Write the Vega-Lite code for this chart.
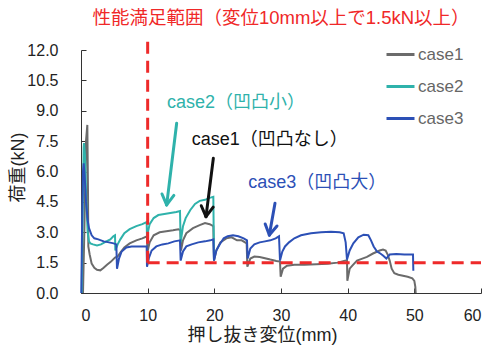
{
  "$schema": "https://vega.github.io/schema/vega-lite/v6.json",
  "width": 400,
  "height": 243,
  "autosize": {"type": "none"},
  "padding": {"left": 81, "top": 50, "right": 6, "bottom": 54},
  "config": {"view": {"stroke": null}, "font": "Liberation Sans, Noto Sans CJK JP"},
  "title": {"text": "性能満足範囲（変位10mm以上で1.5kN以上）", "color": "#f02828", "fontSize": 18.5, "fontWeight": "normal", "font": "Liberation Sans, Noto Sans CJK JP", "anchor": "middle", "offset": 8},
  "datasets": {
    "curves": [
      {"series": "case1", "x": 0.3, "y": 0}, {"series": "case1", "x": 0.5, "y": 3}, {"series": "case1", "x": 0.75, "y": 7.5}, {"series": "case1", "x": 0.95, "y": 8.3}, {"series": "case1", "x": 1.05, "y": 5}, {"series": "case1", "x": 1.1, "y": 2.3}, {"series": "case1", "x": 1.3, "y": 1.9}, {"series": "case1", "x": 1.6, "y": 1.45}, {"series": "case1", "x": 2.0, "y": 1.25}, {"series": "case1", "x": 2.4, "y": 1.15}, {"series": "case1", "x": 2.9, "y": 1.12}, {"series": "case1", "x": 3.4, "y": 1.25}, {"series": "case1", "x": 3.9, "y": 1.4}, {"series": "case1", "x": 4.5, "y": 1.55}, {"series": "case1", "x": 5.1, "y": 1.75}, {"series": "case1", "x": 5.5, "y": 1.8}, {"series": "case1", "x": 5.9, "y": 2.0}, {"series": "case1", "x": 6.5, "y": 2.25}, {"series": "case1", "x": 7.3, "y": 2.45}, {"series": "case1", "x": 8.3, "y": 2.6}, {"series": "case1", "x": 9.2, "y": 2.7}, {"series": "case1", "x": 9.9, "y": 2.8}, {"series": "case1", "x": 9.95, "y": 2.0}, {"series": "case1", "x": 10.3, "y": 2.5}, {"series": "case1", "x": 10.9, "y": 2.85}, {"series": "case1", "x": 11.8, "y": 3.0}, {"series": "case1", "x": 12.8, "y": 3.05}, {"series": "case1", "x": 13.8, "y": 3.1}, {"series": "case1", "x": 14.6, "y": 3.15}, {"series": "case1", "x": 14.9, "y": 3.1}, {"series": "case1", "x": 15.0, "y": 2.1}, {"series": "case1", "x": 15.3, "y": 2.6}, {"series": "case1", "x": 15.8, "y": 2.95}, {"series": "case1", "x": 16.8, "y": 3.2}, {"series": "case1", "x": 17.8, "y": 3.35}, {"series": "case1", "x": 18.6, "y": 3.45}, {"series": "case1", "x": 19.3, "y": 3.4}, {"series": "case1", "x": 19.85, "y": 3.3}, {"series": "case1", "x": 19.95, "y": 1.6}, {"series": "case1", "x": 20.3, "y": 2.1}, {"series": "case1", "x": 20.9, "y": 2.5}, {"series": "case1", "x": 21.8, "y": 2.7}, {"series": "case1", "x": 22.6, "y": 2.75}, {"series": "case1", "x": 23.4, "y": 2.6}, {"series": "case1", "x": 24.1, "y": 2.6}, {"series": "case1", "x": 24.85, "y": 2.45}, {"series": "case1", "x": 24.95, "y": 1.3}, {"series": "case1", "x": 25.4, "y": 1.7}, {"series": "case1", "x": 26.0, "y": 1.8}, {"series": "case1", "x": 26.8, "y": 1.78}, {"series": "case1", "x": 27.6, "y": 1.72}, {"series": "case1", "x": 28.4, "y": 1.65}, {"series": "case1", "x": 29.3, "y": 1.58}, {"series": "case1", "x": 29.85, "y": 1.55}, {"series": "case1", "x": 29.95, "y": 0.8}, {"series": "case1", "x": 30.3, "y": 1.2}, {"series": "case1", "x": 30.9, "y": 1.35}, {"series": "case1", "x": 32.0, "y": 1.4}, {"series": "case1", "x": 33.5, "y": 1.4}, {"series": "case1", "x": 35.3, "y": 1.42}, {"series": "case1", "x": 37.0, "y": 1.45}, {"series": "case1", "x": 38.5, "y": 1.5}, {"series": "case1", "x": 39.6, "y": 1.6}, {"series": "case1", "x": 39.9, "y": 1.62}, {"series": "case1", "x": 39.95, "y": 0.6}, {"series": "case1", "x": 40.3, "y": 1.2}, {"series": "case1", "x": 40.7, "y": 1.35}, {"series": "case1", "x": 41.4, "y": 1.6}, {"series": "case1", "x": 42.2, "y": 1.7}, {"series": "case1", "x": 42.9, "y": 1.78}, {"series": "case1", "x": 43.8, "y": 1.95}, {"series": "case1", "x": 44.8, "y": 2.1}, {"series": "case1", "x": 45.3, "y": 2.15}, {"series": "case1", "x": 45.7, "y": 2.1}, {"series": "case1", "x": 46.0, "y": 1.9}, {"series": "case1", "x": 46.3, "y": 1.6}, {"series": "case1", "x": 46.6, "y": 1.2}, {"series": "case1", "x": 47.0, "y": 0.98}, {"series": "case1", "x": 47.6, "y": 0.9}, {"series": "case1", "x": 48.3, "y": 0.85}, {"series": "case1", "x": 49.0, "y": 0.8}, {"series": "case1", "x": 49.7, "y": 0.72}, {"series": "case1", "x": 50.0, "y": 0.6}, {"series": "case1", "x": 50.15, "y": 0.3}, {"series": "case1", "x": 50.2, "y": 0},
      {"series": "case2", "x": 0.1, "y": 0}, {"series": "case2", "x": 0.25, "y": 4}, {"series": "case2", "x": 0.4, "y": 7.2}, {"series": "case2", "x": 0.45, "y": 7.4}, {"series": "case2", "x": 0.6, "y": 6.8}, {"series": "case2", "x": 0.8, "y": 4.5}, {"series": "case2", "x": 1.0, "y": 3.0}, {"series": "case2", "x": 1.2, "y": 2.55}, {"series": "case2", "x": 1.4, "y": 2.45}, {"series": "case2", "x": 1.8, "y": 2.4}, {"series": "case2", "x": 2.4, "y": 2.35}, {"series": "case2", "x": 3.0, "y": 2.4}, {"series": "case2", "x": 3.8, "y": 2.55}, {"series": "case2", "x": 4.4, "y": 2.65}, {"series": "case2", "x": 4.85, "y": 2.8}, {"series": "case2", "x": 5.1, "y": 2.85}, {"series": "case2", "x": 5.15, "y": 2.1}, {"series": "case2", "x": 5.5, "y": 2.4}, {"series": "case2", "x": 5.9, "y": 2.65}, {"series": "case2", "x": 6.5, "y": 2.95}, {"series": "case2", "x": 7.3, "y": 3.15}, {"series": "case2", "x": 8.3, "y": 3.3}, {"series": "case2", "x": 9.2, "y": 3.4}, {"series": "case2", "x": 9.85, "y": 3.5}, {"series": "case2", "x": 9.9, "y": 2.8}, {"series": "case2", "x": 10.3, "y": 3.4}, {"series": "case2", "x": 10.9, "y": 3.7}, {"series": "case2", "x": 11.6, "y": 3.85}, {"series": "case2", "x": 12.5, "y": 3.9}, {"series": "case2", "x": 13.4, "y": 3.95}, {"series": "case2", "x": 14.3, "y": 4.0}, {"series": "case2", "x": 14.85, "y": 4.05}, {"series": "case2", "x": 14.95, "y": 2.5}, {"series": "case2", "x": 15.3, "y": 3.3}, {"series": "case2", "x": 15.7, "y": 3.7}, {"series": "case2", "x": 16.4, "y": 4.1}, {"series": "case2", "x": 17.1, "y": 4.4}, {"series": "case2", "x": 17.8, "y": 4.55}, {"series": "case2", "x": 18.6, "y": 4.6}, {"series": "case2", "x": 19.3, "y": 4.7}, {"series": "case2", "x": 19.85, "y": 4.75}, {"series": "case2", "x": 19.95, "y": 1.6},
      {"series": "case3", "x": 0.05, "y": 0}, {"series": "case3", "x": 0.15, "y": 3}, {"series": "case3", "x": 0.3, "y": 6.0}, {"series": "case3", "x": 0.4, "y": 6.4}, {"series": "case3", "x": 0.55, "y": 5.8}, {"series": "case3", "x": 0.75, "y": 4.5}, {"series": "case3", "x": 1.0, "y": 3.6}, {"series": "case3", "x": 1.2, "y": 3.2}, {"series": "case3", "x": 1.6, "y": 2.85}, {"series": "case3", "x": 2.0, "y": 2.7}, {"series": "case3", "x": 2.6, "y": 2.65}, {"series": "case3", "x": 3.4, "y": 2.55}, {"series": "case3", "x": 4.2, "y": 2.5}, {"series": "case3", "x": 4.9, "y": 2.45}, {"series": "case3", "x": 5.3, "y": 2.4}, {"series": "case3", "x": 5.4, "y": 1.2}, {"series": "case3", "x": 5.7, "y": 1.7}, {"series": "case3", "x": 6.1, "y": 2.05}, {"series": "case3", "x": 6.8, "y": 2.25}, {"series": "case3", "x": 7.6, "y": 2.3}, {"series": "case3", "x": 8.6, "y": 2.3}, {"series": "case3", "x": 9.85, "y": 2.3}, {"series": "case3", "x": 9.9, "y": 1.3}, {"series": "case3", "x": 10.2, "y": 1.75}, {"series": "case3", "x": 10.6, "y": 2.1}, {"series": "case3", "x": 11.3, "y": 2.3}, {"series": "case3", "x": 12.2, "y": 2.4}, {"series": "case3", "x": 13.1, "y": 2.45}, {"series": "case3", "x": 14.0, "y": 2.55}, {"series": "case3", "x": 14.85, "y": 2.6}, {"series": "case3", "x": 14.95, "y": 1.6}, {"series": "case3", "x": 15.3, "y": 2.05}, {"series": "case3", "x": 15.8, "y": 2.3}, {"series": "case3", "x": 16.6, "y": 2.4}, {"series": "case3", "x": 17.6, "y": 2.5}, {"series": "case3", "x": 18.6, "y": 2.55}, {"series": "case3", "x": 19.4, "y": 2.6}, {"series": "case3", "x": 19.85, "y": 2.65}, {"series": "case3", "x": 19.95, "y": 1.6}, {"series": "case3", "x": 20.3, "y": 2.1}, {"series": "case3", "x": 20.8, "y": 2.4}, {"series": "case3", "x": 21.4, "y": 2.7}, {"series": "case3", "x": 22.0, "y": 2.8}, {"series": "case3", "x": 22.8, "y": 2.85}, {"series": "case3", "x": 23.6, "y": 2.8}, {"series": "case3", "x": 24.4, "y": 2.7}, {"series": "case3", "x": 24.9, "y": 2.6}, {"series": "case3", "x": 25.0, "y": 1.7}, {"series": "case3", "x": 25.4, "y": 2.2}, {"series": "case3", "x": 26.0, "y": 2.4}, {"series": "case3", "x": 26.8, "y": 2.5}, {"series": "case3", "x": 27.6, "y": 2.55}, {"series": "case3", "x": 28.4, "y": 2.6}, {"series": "case3", "x": 29.2, "y": 2.7}, {"series": "case3", "x": 29.7, "y": 2.8}, {"series": "case3", "x": 29.85, "y": 1.6}, {"series": "case3", "x": 30.2, "y": 2.05}, {"series": "case3", "x": 30.6, "y": 2.3}, {"series": "case3", "x": 31.2, "y": 2.5}, {"series": "case3", "x": 32.0, "y": 2.7}, {"series": "case3", "x": 33.0, "y": 2.85}, {"series": "case3", "x": 34.5, "y": 2.95}, {"series": "case3", "x": 36.0, "y": 3.0}, {"series": "case3", "x": 37.5, "y": 3.02}, {"series": "case3", "x": 38.8, "y": 3.0}, {"series": "case3", "x": 39.4, "y": 2.95}, {"series": "case3", "x": 39.7, "y": 2.5}, {"series": "case3", "x": 39.9, "y": 1.65}, {"series": "case3", "x": 40.3, "y": 2.1}, {"series": "case3", "x": 40.85, "y": 2.45}, {"series": "case3", "x": 41.6, "y": 2.75}, {"series": "case3", "x": 42.4, "y": 2.88}, {"series": "case3", "x": 43.1, "y": 2.85}, {"series": "case3", "x": 43.5, "y": 2.6}, {"series": "case3", "x": 43.9, "y": 2.3}, {"series": "case3", "x": 44.4, "y": 2.05}, {"series": "case3", "x": 44.9, "y": 1.95}, {"series": "case3", "x": 45.3, "y": 1.85}, {"series": "case3", "x": 45.8, "y": 1.7}, {"series": "case3", "x": 46.3, "y": 1.9}, {"series": "case3", "x": 47.3, "y": 1.92}, {"series": "case3", "x": 48.5, "y": 1.9}, {"series": "case3", "x": 49.8, "y": 1.9}, {"series": "case3", "x": 49.85, "y": 1.1}
    ],
    "guides": [
      {"x": 10, "y": 1.5, "x2": 10, "y2": 12.64},
      {"x": 10, "y": 1.5, "x2": 60, "y2": 1.5}
    ],
    "notes": [
      {"series": "case2", "x": 12.9, "y": 9.37, "label": "case2（凹凸小）"},
      {"series": "case1", "x": 16.6, "y": 7.55, "label": "case1（凹凸なし）"},
      {"series": "case3", "x": 25.1, "y": 5.42, "label": "case3（凹凸大）"}
    ],
    "arrows": [
      {"series": "case2", "x": 14.35, "y": 8.38, "x2": 12.85, "y2": 4.35},
      {"series": "case2", "x": 13.93, "y": 4.82, "x2": 12.85, "y2": 4.35},
      {"series": "case2", "x": 12.15, "y": 4.89, "x2": 12.85, "y2": 4.35},
      {"series": "case1", "x": 19.85, "y": 6.65, "x2": 18.75, "y2": 3.77},
      {"series": "case1", "x": 19.83, "y": 4.24, "x2": 18.75, "y2": 3.77},
      {"series": "case1", "x": 18.04, "y": 4.31, "x2": 18.75, "y2": 3.77},
      {"series": "case3", "x": 29.1, "y": 4.43, "x2": 28.25, "y2": 2.86},
      {"series": "case3", "x": 29.4, "y": 3.31, "x2": 28.25, "y2": 2.86},
      {"series": "case3", "x": 27.63, "y": 3.41, "x2": 28.25, "y2": 2.86}
    ]
  },
  "encoding": {
    "x": {"field": "x", "type": "quantitative", "scale": {"domain": [0, 60], "nice": false},
      "axis": {"title": "押し抜き変位(mm)", "values": [0, 10, 20, 30, 40, 50, 60], "grid": false, "tickSize": -5, "labelPadding": 19, "labelFontSize": 16, "titleFontSize": 18, "titleFontWeight": "normal", "labelColor": "#222", "titleColor": "#222", "domainColor": "#333", "tickColor": "#333", "titlePadding": 3, "titleX": 181}},
    "y": {"field": "y", "type": "quantitative", "scale": {"domain": [0, 12], "nice": false},
      "axis": {"title": "荷重(kN)", "values": [0, 1.5, 3, 4.5, 6, 7.5, 9, 10.5, 12], "format": ".1f", "grid": false, "tickSize": -5, "labelPadding": 28, "labelFontSize": 16, "titleFontSize": 18, "titleFontWeight": "normal", "labelColor": "#222", "titleColor": "#222", "domainColor": "#333", "tickColor": "#333", "titleX": -63, "titleY": 117, "titleBaseline": "middle"}}
  },
  "layer": [
    {
      "data": {"name": "curves"},
      "mark": {"type": "line", "strokeWidth": 2},
      "encoding": {
        "color": {"field": "series", "type": "nominal",
          "scale": {"domain": ["case1", "case2", "case3"], "range": ["#6b6b6b", "#2fb2ab", "#2c50b6"]},
          "legend": {"title": null, "orient": "none", "legendX": 304, "legendY": -11, "symbolType": "stroke", "symbolSize": 784, "symbolStrokeWidth": 3, "labelFontSize": 17, "labelColor": "#666", "rowPadding": 8, "labelOffset": 2, "padding": 0}}
      }
    },
    {
      "data": {"name": "guides"},
      "mark": {"type": "rule", "color": "#ee2a2a", "strokeWidth": 3, "strokeDash": [12, 7]},
      "encoding": {"x2": {"field": "x2"}, "y2": {"field": "y2"}}
    },
    {
      "data": {"name": "arrows"},
      "transform": [{"filter": "datum.series === 'case2'"}],
      "mark": {"type": "rule", "color": "#2fb2ab", "strokeWidth": 3, "strokeCap": "round"},
      "encoding": {"x2": {"field": "x2"}, "y2": {"field": "y2"}}
    },
    {
      "data": {"name": "arrows"},
      "transform": [{"filter": "datum.series === 'case1'"}],
      "mark": {"type": "rule", "color": "#111111", "strokeWidth": 3, "strokeCap": "round"},
      "encoding": {"x2": {"field": "x2"}, "y2": {"field": "y2"}}
    },
    {
      "data": {"name": "arrows"},
      "transform": [{"filter": "datum.series === 'case3'"}],
      "mark": {"type": "rule", "color": "#2c50b6", "strokeWidth": 3, "strokeCap": "round"},
      "encoding": {"x2": {"field": "x2"}, "y2": {"field": "y2"}}
    },
    {
      "data": {"name": "notes"},
      "transform": [{"filter": "datum.series === 'case2'"}],
      "mark": {"type": "text", "align": "left", "baseline": "middle", "fontSize": 18, "color": "#2fb2ab"},
      "encoding": {"text": {"field": "label"}}
    },
    {
      "data": {"name": "notes"},
      "transform": [{"filter": "datum.series === 'case1'"}],
      "mark": {"type": "text", "align": "left", "baseline": "middle", "fontSize": 18, "color": "#111111"},
      "encoding": {"text": {"field": "label"}}
    },
    {
      "data": {"name": "notes"},
      "transform": [{"filter": "datum.series === 'case3'"}],
      "mark": {"type": "text", "align": "left", "baseline": "middle", "fontSize": 18, "color": "#2c50b6"},
      "encoding": {"text": {"field": "label"}}
    }
  ]
}
